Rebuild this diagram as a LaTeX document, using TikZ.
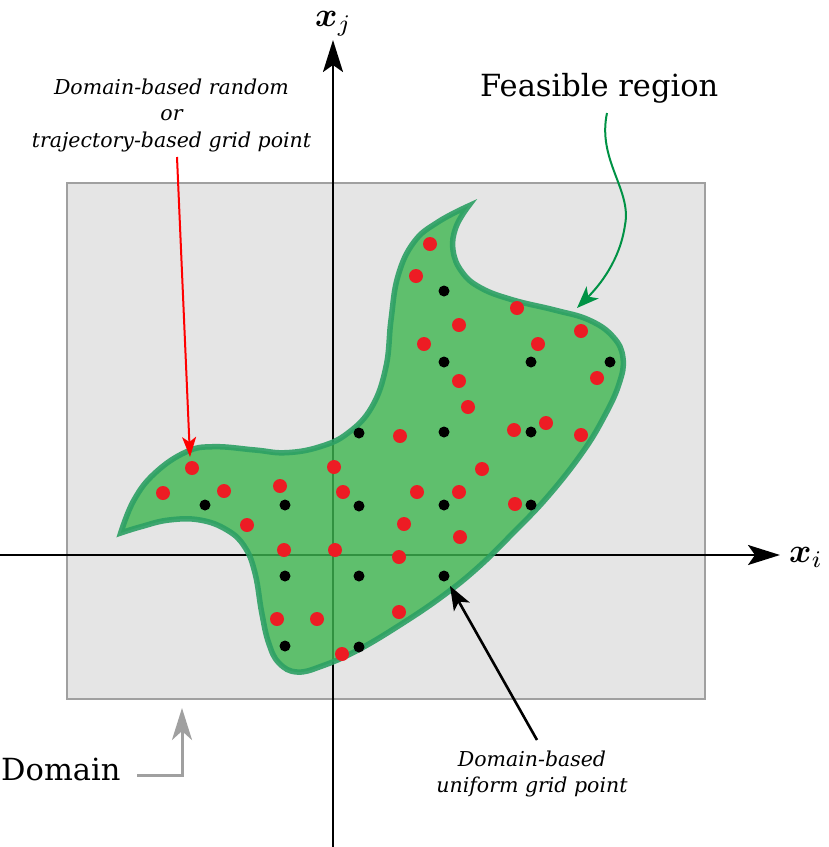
\documentclass[tikz,border=0pt]{standalone}
\usepackage{fontspec}
\setmainfont{DejaVu Serif}
\usepackage{amsmath,bm,graphicx}
\usetikzlibrary{arrows.meta}
\definecolor{domfill}{RGB}{229,229,229}
\definecolor{domline}{RGB}{160,160,160}
\definecolor{blobfill}{RGB}{62,182,80}
\definecolor{blobline}{RGB}{44,160,100}
\definecolor{reddot}{RGB}{237,28,36}
\definecolor{arrowgreen}{RGB}{0,146,69}
\tikzset{
  axisline/.style={line width=2.4pt,-{Stealth[length=32pt,width=20pt,inset=7pt]}},
  reddotstyle/.style={fill=reddot},
  blackdotstyle/.style={fill=black},
  bigtext/.style={font=\fontsize{30.5}{36}\selectfont, inner sep=0pt},
  smalltext/.style={font=\fontsize{20.5}{26.5}\selectfont\itshape, align=center, inner sep=0pt},
  axislabel/.style={font=\fontsize{10}{12}\selectfont, inner sep=0pt}
}
\begin{document}
\begin{tikzpicture}[x=1pt,y=-1pt]
\useasboundingbox (0,0) rectangle (829,847);
% domain
\draw[fill=domfill, draw=domline, line width=2pt] (67,183) rectangle (705,699);
% axes
\coordinate (xstart) at (0,555);
\coordinate (xend) at (780,555);
\coordinate (ystart) at (333,847);
\coordinate (yend) at (333,40);
\draw[axisline] (xstart) -- (xend);
\draw[axisline] (ystart) -- (yend);
\node[axislabel, anchor=base west] (xi) at (789,562) {\scalebox{3.4}{$\bm{x}_i$}};
\node[axislabel, anchor=base west] (xj) at (315,26) {\scalebox{3.4}{$\bm{x}_j$}};
% feasible region
\path[fill=blobfill, fill opacity=0.8, draw=blobline, draw opacity=0.9, line width=5.5pt, line join=miter, miter limit=20]
  plot[smooth, tension=0.7] coordinates {(120.7,533) (134,500) (155,473) (186,452) (213.6,446.7) (255,450) (286,452.7) (320,446.7) (348,433) (372,406.7) (386,366.7) (391,320) (398,276) (414,242) (438,222) (468.5,206)}
  -- plot[smooth, tension=0.7] coordinates {(468.5,206) (456,227) (453,250) (462,272) (481,288) (513,300) (554.5,310) (589,320) (613,336.7) (623,358) (619,384) (604,417) (582,453) (547.6,496.7) (513,533) (478.8,566.7) (444,595) (403,623) (358,650) (322,666) (297,672) (279,663) (268.7,643) (261.8,613) (255,573) (244.6,546.7) (227,530) (200,520) (169,520) (141,526.7) (120.7,533)}
  -- cycle;
% red points
\foreach \p in {(430,244),(416,276),(459,325),(424,344),(517,308),(581,331),(538,344),(459,381),(597,378),(468,407),(400,436),(514,430),(546,423),(581,435),(192,468),(163,493),(224,491),(280,486),(334,467),(343,492),(417,492),(459,492),(482,469),(247,525),(404,524),(460,537),(284,550),(335,550),(399,557),(515,504),(277,619),(317,619),(399,612),(342,654)}
  \fill[reddotstyle] \p circle (7pt);
% black points
\foreach \p in {(444,291),(444,362),(531,362),(610,362),(359,433),(444,432),(531,432),(205,505),(285,505),(359,506),(444,505),(531,505),(285,576),(359,576),(444,576),(285,646),(359,647)}
  \fill[blackdotstyle] \p circle (5.5pt);
% labels
\node[smalltext] (randlabel) at (171.5,115) {Domain-based random\\or\\trajectory-based grid point};
\node[bigtext, anchor=base west] (feaslabel) at (480,96) {Feasible region};
\node[bigtext, anchor=base west] (domlabel) at (1,780) {Domain};
\node[smalltext] (gridlabel) at (532,774) {Domain-based\\uniform grid point};
% arrows
\coordinate (redstart) at (177,157);
\coordinate (redtip) at (190,457);
\draw[red, line width=2pt, -{Stealth[length=20pt,width=14pt,inset=5pt]}] (redstart) -- (redtip);
\coordinate (greenstart) at (607,113);
\coordinate (greenmid) at (625,225);
\coordinate (greentip) at (577,308);
\draw[arrowgreen, line width=2pt, -{Stealth[length=22pt,width=17pt,inset=6pt]}] (greenstart) .. controls (597,160) and (632,190) .. (greenmid) .. controls (620,260) and (600,285) .. (greentip);
\coordinate (blackstart) at (537,740);
\coordinate (blacktip) at (450,586);
\draw[black, line width=2.6pt, -{Stealth[length=24pt,width=18pt,inset=6pt]}] (blackstart) -- (blacktip);
\coordinate (domstart) at (137,775);
\coordinate (domtip) at (182,708);
\draw[domline, line width=3pt, -{Stealth[length=32pt,width=20pt,inset=9pt]}] (domstart) -| (domtip);
\end{tikzpicture}
\end{document}
